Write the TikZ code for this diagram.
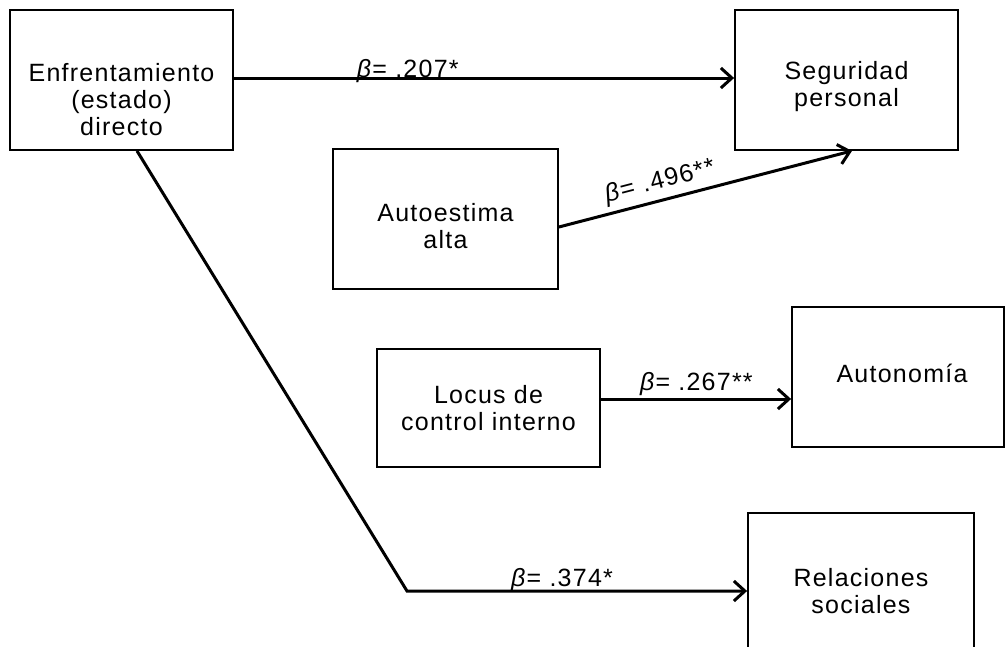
\documentclass[tikz,border=0pt]{standalone}
\usepackage{fontspec}
\setmainfont{Liberation Sans}[LetterSpace=5]
\usetikzlibrary{arrows.meta}

\begin{document}
\begin{tikzpicture}[x=1pt, y=-1pt,
	main/.style={rectangle, draw=black, line width=1.8pt, inner sep=0pt},
	txt/.style={align=center, font=\fontsize{25}{27}\selectfont, inner sep=0pt},
	beta/.style={font=\fontsize{25}{27}\selectfont, inner sep=0pt},
	arr/.style={line width=3pt, -{Straight Barb[length=11pt, width=20pt]}}
	]
	\path[use as bounding box, clip] (0,0) rectangle (1005,646);

	\node (enfrent) [main, minimum width=223pt, minimum height=140pt,
		label={[txt, yshift=-20pt]center:{Enfrentamiento\\(estado)\\directo}}] at (121.5,80) {};
	\node (segur) [main, minimum width=223pt, minimum height=140pt,
		label={[txt, yshift=-7pt]center:{Seguridad\\personal}}] at (846.5,80) {};
	\node (autoest) [main, minimum width=225pt, minimum height=140pt,
		label={[txt, yshift=-7pt]center:{Autoestima\\alta}}] at (445.5,219) {};
	\node (locus) [main, minimum width=223pt, minimum height=118pt,
		label={[txt]center:{Locus de\\control interno}}] at (488.5,408) {};
	\node (autonom) [main, minimum width=212pt, minimum height=140pt,
		label={[txt, xshift=4pt, yshift=4pt]center:{Autonomía}}] at (898,377) {};
	\node (relac) [main, minimum width=226pt, minimum height=156pt,
		label={[txt]center:{Relaciones\\sociales}}] at (861,591) {};

	\coordinate (lc) at ([yshift=9pt]locus.east);
	\coordinate (bend) at (407,591);

	\draw [arr] ([yshift=2pt]enfrent.east) -- ([yshift=2pt]segur.west)
		node (b207) [beta, pos=0.243, anchor=base west, yshift=1pt] {\textit{β}= .207*};
	\draw [arr] ([yshift=-8pt]autoest.east) -- ([xshift=5.5pt]segur.south)
		node (b496) [beta, sloped, pos=0.17, anchor=south west, yshift=5pt] {\textit{β}= .496**};
	\draw [arr] (lc) -- (lc -| autonom.west)
		node (b267) [beta, pos=0.198, anchor=base west, yshift=9pt] {\textit{β}= .267**};
	\draw [arr] ([xshift=15.5pt]enfrent.south) -- (bend) -- (relac.west)
		node (b374) [beta, pos=0.302, anchor=base west, yshift=5pt] {\textit{β}= .374*};

\end{tikzpicture}
\end{document}
